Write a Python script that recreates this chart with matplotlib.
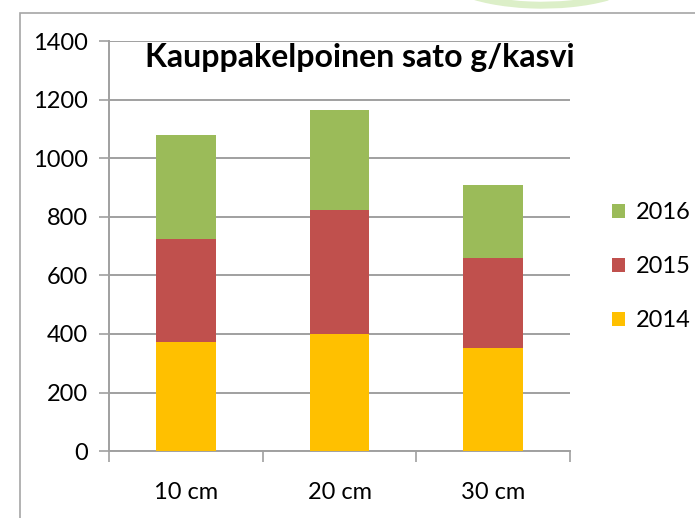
import matplotlib.pyplot as plt
from matplotlib.patches import Rectangle, Arc
import numpy as np

plt.rcParams['font.family'] = ['Lato', 'DejaVu Sans']

categories = ["10 cm", "20 cm", "30 cm"]
years = ["2014", "2015", "2016"]
v2014 = [374, 401, 353]
v2015 = [351, 423, 308]
v2016 = [355, 342, 248]
colors = ["#FFC000", "#C0504D", "#9BBB59"]

fig = plt.figure(figsize=(6.95, 5.18), dpi=100)
ax = fig.add_axes([0.157, 0.1293, 0.663, 0.7907])

# outer frame of the slide chart
fig.patches.append(Rectangle((0.029, -0.01), 1.0, 0.985, transform=fig.transFigure,
                             fill=False, edgecolor="#A6A6A6", linewidth=1.2))
fig.patches.append(Arc((0.78, 1.06), 0.3, 0.14, transform=fig.transFigure, theta1=200, theta2=330,
                       color="#DCEFC8", linewidth=5))

x = np.arange(len(categories))
bottom = np.zeros(len(categories))
bars = []
for vals, col, yr in zip([v2014, v2015, v2016], colors, years):
    b = ax.bar(x, vals, width=0.39, bottom=bottom, color=col, label=yr, zorder=3)
    bars.append(b)
    bottom += np.array(vals)

ax.set_xlim(-0.5, 2.5)
ax.set_ylim(0, 1400)
ax.set_yticks(range(0, 1401, 200))
ax.yaxis.grid(True, color="#A0A0A0", linewidth=1.4, zorder=0)
ax.set_axisbelow(True)

ax.set_xticks(x)
ax.set_xticklabels(categories, fontsize=17)
ax.set_xticks([-0.5, 0.5, 1.5, 2.5], minor=True)
ax.tick_params(axis='x', which='major', length=0, pad=22)
ax.tick_params(axis='x', which='minor', length=8, color="#A0A0A0", width=1.2, direction='out')
ax.tick_params(axis='y', labelsize=17, length=7, color="#A0A0A0", width=1.2, pad=8)

for s in ["top", "right"]:
    ax.spines[s].set_visible(False)
for s in ["left", "bottom"]:
    ax.spines[s].set_color("#A0A0A0")
    ax.spines[s].set_linewidth(1.4)

fig.text(0.517, 0.889, "Kauppakelpoinen sato g/kasvi", ha="center", va="center",
         fontsize=23, fontweight="bold")

handles = [bars[2], bars[1], bars[0]]
fig.legend(handles, ["2016", "2015", "2014"], loc="center left",
           bbox_to_anchor=(0.85, 0.485), frameon=False, fontsize=17,
           handlelength=0.55, handleheight=0.55, handletextpad=0.45, labelspacing=1.4)

fig.savefig("out.png", dpi=100)
